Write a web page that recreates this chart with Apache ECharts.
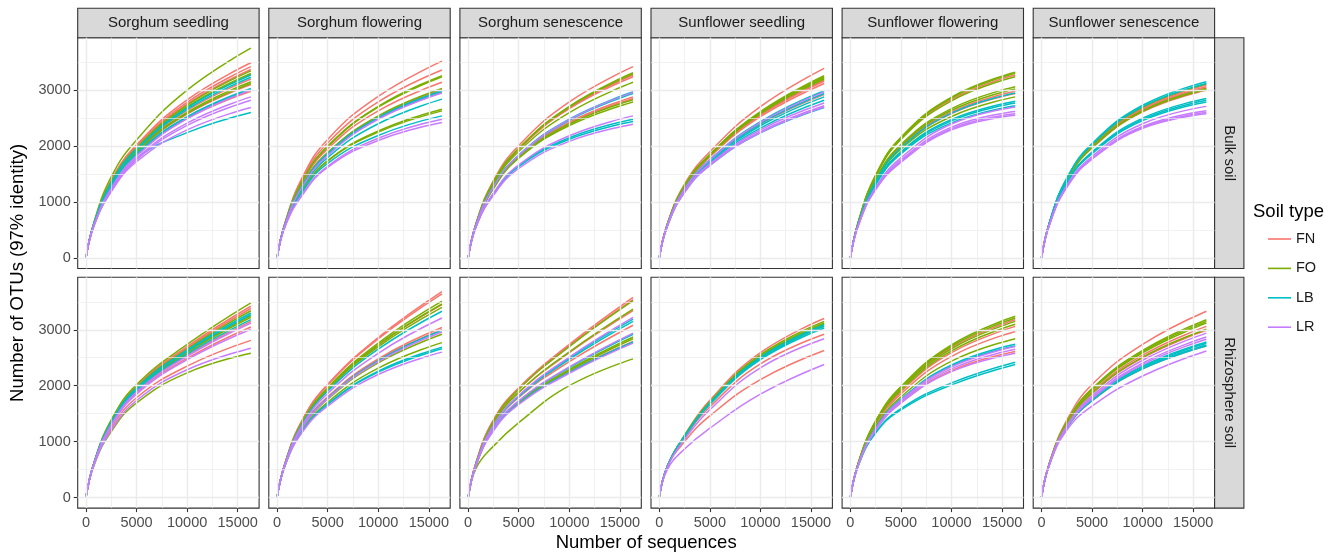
<!DOCTYPE html>
<html><head><meta charset="utf-8">
<script src="https://cdn.jsdelivr.net/npm/echarts@6/dist/echarts.min.js"></script>
<style>html,body{margin:0;padding:0;background:#fff}#chart{width:1342px;height:555px}</style>
</head><body><div id="chart"></div>
<script>
// Sampling depths of the rarefaction curves (curves start at 0 OTUs at 0 sequences)
const XS = [0, 800, 2500, 5000, 10000, 16300];
const STAGES = ['Sorghum seedling','Sorghum flowering','Sorghum senescence','Sunflower seedling','Sunflower flowering','Sunflower senescence'];
const COMPARTMENTS = ['Bulk soil','Rhizosphere soil'];
const SOILS = ['FN','FO','LB','LR'];
const X_TICKS = [0, 5000, 10000, 15000];
const Y_TICKS = [0, 1000, 2000, 3000];
// each curve: OTUs at 800, 2500, 5000, 10000, 16300 sequences
const bulkSorghumSeedling = {
  FN: [[630,1393,2022,2828,3490],[626,1377,1998,2782,3420],[624,1366,1981,2749,3370],[615,1329,1923,2637,3200],[610,1307,1889,2571,3100],[604,1281,1848,2492,2980]],
  FO: [[643,1450,2110,3000,3750],[622,1361,1972,2733,3345],[620,1351,1957,2703,3300],[619,1347,1950,2690,3280],[613,1318,1906,2604,3150],[611,1311,1896,2584,3120]],
  LB: [[619,1344,1947,2683,3270],[617,1336,1933,2657,3230],[607,1292,1865,2525,3030],[606,1287,1858,2512,3010],[585,1197,1780,2241,2600]],
  LR: [[590,1250,1820,2490,3000],[585,1225,1780,2410,2880],[580,1210,1755,2370,2820],[575,1185,1720,2290,2690]]
};
const bulkSorghumFlowering = {
  FN: [[640,1440,2120,2890,3520],[632,1405,2055,2790,3360],[620,1350,1950,2630,3140],[612,1310,1880,2530,3010],[610,1300,1865,2505,2980]],
  FO: [[625,1375,2000,2710,3260],[624,1370,1990,2695,3240],[612,1310,1885,2540,3030],[590,1210,1740,2270,2660],[588,1205,1730,2250,2630]],
  LB: [[608,1295,1865,2510,2990],[606,1288,1850,2490,2960],[598,1250,1795,2400,2840],[582,1180,1690,2190,2540]],
  LR: [[600,1275,1835,2480,2950],[570,1140,1640,2140,2480],[565,1125,1620,2100,2420]]
};
const bulkSorghumSenescence = {
  FN: [[630,1385,2010,2790,3420],[622,1350,1950,2690,3270],[620,1343,1938,2668,3240],[600,1262,1818,2428,2880],[598,1255,1805,2408,2850]],
  FO: [[624,1358,1962,2712,3310],[623,1353,1955,2698,3290],[615,1320,1905,2598,3140],[597,1250,1798,2395,2830],[595,1240,1783,2368,2790]],
  LB: [[603,1278,1842,2482,2970],[602,1272,1832,2462,2940],[572,1150,1650,2150,2480],[570,1140,1632,2122,2440]],
  LR: [[600,1272,1835,2474,2960],[574,1160,1665,2185,2540],[563,1120,1600,2085,2390]]
};
const bulkSunflowerSeedling = {
  FN: [[610,1320,1900,2705,3390],[598,1275,1825,2565,3180],[597,1270,1818,2552,3160],[595,1262,1805,2525,3120],[583,1220,1735,2390,2920]],
  FO: [[603,1292,1852,2618,3260],[602,1288,1845,2605,3240],[601,1283,1838,2592,3220],[600,1279,1831,2578,3200]],
  LB: [[587,1235,1760,2437,2990],[584,1224,1742,2404,2940],[581,1212,1721,2364,2880],[577,1199,1700,2323,2820],[570,1172,1654,2236,2690]],
  LR: [[586,1230,1752,2424,2970],[574,1188,1682,2290,2770],[571,1178,1664,2256,2720],[570,1174,1657,2243,2700]]
};
const bulkSunflowerFlowering = {
  FN: [[650,1460,2130,2835,3270],[630,1380,1990,2610,2980],[628,1370,1970,2580,2940]],
  FO: [[655,1480,2160,2875,3320],[654,1475,2150,2860,3300],[650,1455,2120,2810,3240],[640,1405,2030,2670,3060],[637,1395,2010,2640,3020],[628,1355,1945,2530,2880]],
  LB: [[625,1370,1970,2590,2950],[615,1325,1900,2475,2800],[612,1318,1885,2452,2770],[608,1305,1862,2415,2720]],
  LR: [[595,1260,1790,2395,2700],[590,1240,1750,2340,2620],[588,1230,1725,2310,2580],[585,1222,1710,2290,2550]]
};
const bulkSunflowerSenescence = {
  FN: [[635,1410,2010,2680,3090],[633,1402,1995,2658,3060],[632,1396,1985,2642,3040],[630,1385,1965,2612,3000]],
  FO: [[636,1414,2020,2694,3110],[632,1393,1980,2635,3030],[630,1388,1970,2620,3010]],
  LB: [[640,1425,2045,2730,3150],[638,1418,2030,2705,3120],[622,1350,1895,2500,2850],[620,1342,1880,2478,2820],[618,1335,1865,2455,2790]],
  LR: [[605,1295,1815,2400,2710],[600,1275,1785,2350,2630],[598,1268,1775,2332,2600],[597,1262,1765,2318,2580]]
};
const rhizoSorghumSeedling = {
  FN: [[625,1375,1995,2700,3420],[623,1367,1982,2675,3380],[612,1318,1905,2545,3150],[607,1296,1870,2488,3050],[595,1240,1785,2350,2810]],
  FO: [[630,1388,2020,2737,3480],[622,1358,1970,2655,3340],[618,1340,1940,2605,3250],[616,1333,1928,2588,3220],[580,1180,1693,2230,2580]],
  LB: [[620,1350,1957,2635,3300],[619,1344,1947,2618,3270],[614,1325,1916,2565,3180]],
  LR: [[608,1305,1885,2525,3120],[603,1282,1848,2465,3010],[585,1205,1735,2285,2670]]
};
const rhizoSorghumFlowering = {
  FN: [[625,1390,2025,2860,3680],[623,1382,2010,2835,3640],[615,1345,1945,2725,3450],[597,1262,1800,2480,3040],[595,1255,1786,2455,3000]],
  FO: [[618,1355,1965,2760,3510],[616,1345,1948,2730,3460],[613,1333,1926,2695,3400],[592,1237,1758,2410,2920],[585,1205,1705,2315,2770]],
  LB: [[610,1318,1900,2652,3330],[594,1250,1780,2448,2990],[582,1190,1675,2260,2690],[580,1184,1664,2242,2660]],
  LR: [[605,1295,1860,2580,3210],[593,1245,1770,2430,2960],[577,1172,1634,2200,2600]]
};
const rhizoSorghumSenescence = {
  FN: [[640,1390,1965,2740,3580],[638,1382,1950,2715,3540],[630,1340,1880,2590,3340],[618,1285,1790,2430,3080],[605,1222,1690,2250,2790]],
  FO: [[625,1360,1935,2700,3520],[618,1330,1880,2605,3370],[595,1225,1705,2290,2870],[594,1218,1695,2272,2840],[530,920,1340,2000,2480]],
  LB: [[608,1290,1820,2495,3190],[606,1282,1806,2470,3150],[596,1233,1725,2325,2920],[589,1203,1676,2238,2780]],
  LR: [[605,1290,1825,2510,3220],[592,1232,1728,2335,2940],[584,1195,1665,2222,2760]]
};
const rhizoSunflowerSeedling = {
  FN: [[565,1115,1740,2590,3200],[555,1070,1620,2390,2920],[550,1000,1460,2110,2630]],
  FO: [[563,1108,1715,2555,3150],[562,1103,1703,2533,3120],[561,1099,1695,2518,3100],[560,1094,1683,2496,3070]],
  LB: [[560,1097,1690,2510,3090],[559,1092,1678,2488,3060],[558,1087,1666,2466,3030]],
  LR: [[545,1040,1570,2320,2840],[500,870,1240,1850,2380]]
};
const rhizoSunflowerFlowering = {
  FN: [[625,1355,1950,2680,3180],[618,1325,1895,2590,3060],[612,1305,1855,2525,2970],[595,1220,1705,2270,2610]],
  FO: [[630,1370,1985,2730,3240],[628,1362,1968,2705,3210],[624,1348,1940,2660,3150],[621,1336,1915,2622,3100],[605,1270,1800,2438,2840]],
  LB: [[600,1245,1760,2370,2740],[598,1238,1748,2348,2710],[580,1165,1590,2050,2420],[578,1155,1568,2015,2380]],
  LR: [[596,1232,1742,2338,2700],[593,1220,1720,2302,2650],[589,1203,1690,2252,2580]]
};
const rhizoSunflowerSenescence = {
  FN: [[630,1380,2020,2737,3330],[617,1320,1890,2545,3060],[613,1305,1858,2497,2990],[598,1240,1730,2300,2710]],
  FO: [[623,1347,1948,2630,3180],[621,1340,1934,2609,3150],[620,1333,1920,2588,3120],[614,1309,1867,2510,3010]],
  LB: [[605,1262,1765,2350,2780],[604,1257,1756,2336,2760],[602,1250,1742,2315,2730],[601,1245,1733,2300,2710]],
  LR: [[606,1280,1818,2455,2940],[603,1265,1788,2405,2870],[601,1256,1770,2377,2830],[590,1205,1634,2173,2620]]
};
const PANELS = [
  [bulkSorghumSeedling, bulkSorghumFlowering, bulkSorghumSenescence, bulkSunflowerSeedling, bulkSunflowerFlowering, bulkSunflowerSenescence],
  [rhizoSorghumSeedling, rhizoSorghumFlowering, rhizoSorghumSenescence, rhizoSunflowerSeedling, rhizoSunflowerFlowering, rhizoSunflowerSenescence]
];

const COLORS = {FN:'#F8766D', FO:'#7CAE00', LB:'#00BFC4', LR:'#C77CFF'};
const FONT = '"Liberation Sans", Arial, Helvetica, sans-serif';
const L0 = 77.7, DX = 191.1, W = 181.4, TOPS = [37.7, 277.3], H = 230.8;
const XR = [-815, 17115], YR = [-187.5, 3937.5];
const X_MAJOR = [0, 5000, 10000, 15000], X_MINOR = [2500, 7500, 12500];
const Y_MAJOR = [0, 1000, 2000, 3000], Y_MINOR = [500, 1500, 2500, 3500];

const grids = [], xAxes = [], yAxes = [], series = [], graphics = [];
for (let r = 0; r < 2; r++) {
  for (let c = 0; c < 6; c++) {
    const idx = r * 6 + c;
    const left = L0 + c * DX, top = TOPS[r];
    grids.push({left: left, top: top, width: W, height: H, show: true, borderColor: '#333333', borderWidth: 1.1,
      backgroundColor: '#ffffff', containLabel: false, outerBoundsMode: 'none'});
    xAxes.push({gridIndex: idx, type: 'value', min: XR[0], max: XR[1],
      axisLine: {show: false, onZero: false}, splitLine: {show: false},
      axisTick: {show: r === 1, customValues: X_TICKS, length: 4, lineStyle: {color: '#333333', width: 1.1}},
      axisLabel: {show: r === 1, customValues: X_TICKS, margin: 7, color: '#4D4D4D', fontSize: 14.5, fontFamily: FONT,
        formatter: v => String(v)}});
    yAxes.push({gridIndex: idx, type: 'value', min: YR[0], max: YR[1],
      axisLine: {show: false, onZero: false}, splitLine: {show: false},
      axisTick: {show: c === 0, customValues: Y_TICKS, length: 4, lineStyle: {color: '#333333', width: 1.1}},
      axisLabel: {show: c === 0, customValues: Y_TICKS, margin: 7, color: '#4D4D4D', fontSize: 14.5, fontFamily: FONT,
        formatter: v => String(v)}});
    const ml = [];
    X_MINOR.forEach(v => ml.push({xAxis: v, lineStyle: {color: '#EBEBEB', width: 0.7, type: 'solid'}}));
    Y_MINOR.forEach(v => ml.push({yAxis: v, lineStyle: {color: '#EBEBEB', width: 0.7, type: 'solid'}}));
    X_MAJOR.forEach(v => ml.push({xAxis: v, lineStyle: {color: '#EBEBEB', width: 1.4, type: 'solid'}}));
    Y_MAJOR.forEach(v => ml.push({yAxis: v, lineStyle: {color: '#EBEBEB', width: 1.4, type: 'solid'}}));
    series.push({type: 'line', xAxisIndex: idx, yAxisIndex: idx, data: [], silent: true, z: 1,
      markLine: {silent: true, symbol: ['none', 'none'], label: {show: false}, emphasis: {disabled: true}, animation: false, data: ml}});
    const panel = PANELS[r][c];
    SOILS.forEach(s => {
      panel[s].forEach(curve => {
        const vals = [0].concat(curve);
        series.push({type: 'line', name: s, xAxisIndex: idx, yAxisIndex: idx, z: 2,
          data: XS.map((x, k) => [x, vals[k]]),
          symbol: 'none', showSymbol: false, smooth: 0.45, silent: true,
          lineStyle: {color: COLORS[s], width: 1.5}, itemStyle: {color: COLORS[s]},
          emphasis: {disabled: true}});
      });
    });
    if (r === 0) {
      graphics.push({type: 'rect', shape: {x: left, y: 8.3, width: W, height: top - 8.3},
        style: {fill: '#D9D9D9', stroke: '#333333', lineWidth: 1.1}, silent: true});
      graphics.push({type: 'text', x: left + W / 2, y: 23, silent: true,
        style: {text: STAGES[c], font: '15px ' + FONT, fill: '#1A1A1A', align: 'center', verticalAlign: 'middle'}});
    }
  }
  const sx = L0 + 5 * DX + W;
  graphics.push({type: 'rect', shape: {x: sx, y: TOPS[r], width: 29.3, height: H},
    style: {fill: '#D9D9D9', stroke: '#333333', lineWidth: 1.1}, silent: true});
  graphics.push({type: 'text', x: sx + 14.6, y: TOPS[r] + H / 2, rotation: -Math.PI / 2, silent: true,
    style: {text: COMPARTMENTS[r], font: '15px ' + FONT, fill: '#1A1A1A', align: 'center', verticalAlign: 'middle'}});
}
graphics.push({type: 'text', x: L0 + (5 * DX + W) / 2, y: 543, silent: true,
  style: {text: 'Number of sequences', font: '18.5px ' + FONT, fill: '#000000', align: 'center', verticalAlign: 'middle'}});
graphics.push({type: 'text', x: 18, y: (TOPS[0] + TOPS[1] + H) / 2, rotation: Math.PI / 2, silent: true,
  style: {text: 'Number of OTUs (97% identity)', font: '18.5px ' + FONT, fill: '#000000', align: 'center', verticalAlign: 'middle'}});
graphics.push({type: 'text', x: 1253, y: 212, silent: true,
  style: {text: 'Soil type', font: '18.5px ' + FONT, fill: '#000000', align: 'left', verticalAlign: 'middle'}});

const chart = echarts.init(document.getElementById('chart'), null, {renderer: 'canvas'});
chart.setOption({
  animation: false,
  backgroundColor: '#ffffff',
  grid: grids, xAxis: xAxes, yAxis: yAxes, series: series,
  legend: {data: SOILS, orient: 'vertical', left: 1268, top: 231, icon: 'rect', itemWidth: 23, itemHeight: 1.6,
    itemGap: 13.4, selectedMode: false, padding: 0,
    textStyle: {fontSize: 14.5, lineHeight: 16, color: '#1A1A1A', fontFamily: FONT}},
  graphic: graphics
});
</script></body></html>
